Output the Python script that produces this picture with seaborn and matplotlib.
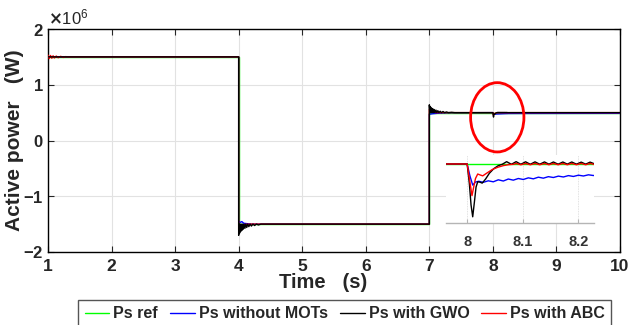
import numpy as np
import pandas as pd
import matplotlib
matplotlib.use("Agg")
import matplotlib.pyplot as plt
from matplotlib.patches import Ellipse
from matplotlib.lines import Line2D
import seaborn as sns

# ---------------- data (values in units of 1e6 W) ----------------
ref_t = [1, 4, 4, 7, 7, 10]
ref_p = [1.5, 1.5, -1.5, -1.5, 0.5, 0.5]

gwo_t = [1, 4, 4.0, 4.008, 4.016, 4.024, 4.033, 4.042, 4.052, 4.062, 4.073, 4.085, 4.098, 4.112,
         4.127, 4.143, 4.16, 4.18, 4.2, 4.225, 4.25, 4.28, 4.31, 4.35, 7.0,
         7.0, 7.008, 7.016, 7.025, 7.034, 7.044, 7.055, 7.066, 7.078, 7.09, 7.104, 7.118, 7.134,
         7.15, 7.17, 7.19, 7.215, 7.24, 7.27, 7.3, 7.35, 7.4, 8.0,
         8.004, 8.007, 8.010, 8.013, 8.016, 8.019, 8.023, 8.027, 8.033, 8.040, 8.048, 8.056, 8.063,
         8.071, 8.0795, 8.088, 8.0965, 8.105, 8.1135, 8.122, 8.1305, 8.139, 8.147, 8.155, 8.1635,
         8.172, 8.180, 8.188, 8.1965, 8.205, 8.213, 8.221, 8.230, 8.3, 10]
gwo_p = [1.5, 1.5, -1.70, -1.50, -1.66, -1.50, -1.63, -1.50, -1.61, -1.50, -1.59, -1.50, -1.575, -1.50,
         -1.56, -1.50, -1.545, -1.50, -1.535, -1.50, -1.525, -1.50, -1.515, -1.50, -1.50,
         0.64, 0.50, 0.61, 0.50, 0.585, 0.50, 0.57, 0.50, 0.555, 0.50, 0.545, 0.50, 0.535,
         0.50, 0.525, 0.50, 0.52, 0.50, 0.512, 0.50, 0.506, 0.50, 0.50,
         0.470, 0.438, 0.420, 0.442, 0.465, 0.473, 0.4725, 0.471, 0.477, 0.486, 0.493, 0.4975, 0.4995,
         0.5035, 0.4995, 0.5035, 0.4995, 0.5033, 0.4995, 0.5032, 0.4996, 0.5031, 0.4996, 0.503, 0.4996,
         0.503, 0.4997, 0.503, 0.4997, 0.5028, 0.4997, 0.5028, 0.4998, 0.50, 0.50]

abc_t = [1.0, 1.02, 1.04, 1.06, 1.08, 1.10, 1.13, 1.16, 1.20, 1.24, 1.28, 1.32, 1.36, 4,
         4.0, 4.02, 4.05, 4.1, 4.2, 7.0,
         7.0, 7.03, 7.06, 7.1, 8.0,
         8.004, 8.0087, 8.012, 8.015, 8.019, 8.023, 8.028, 8.035, 8.045, 8.055, 8.065, 8.075, 8.083,
         8.088, 8.0965, 8.105, 8.1135, 8.122, 8.1305, 8.139, 8.147, 8.155, 8.1635, 8.172, 8.180,
         8.188, 8.1965, 8.205, 8.213, 8.221, 8.230, 8.3, 10]
abc_p = [1.53, 1.47, 1.525, 1.475, 1.52, 1.48, 1.515, 1.485, 1.51, 1.49, 1.505, 1.497, 1.5, 1.5,
         -1.60, -1.52, -1.54, -1.505, -1.5, -1.5,
         0.56, 0.51, 0.52, 0.50, 0.50,
         0.478, 0.452, 0.466, 0.478, 0.4848, 0.4835, 0.482, 0.486, 0.4915, 0.495, 0.4975, 0.499, 0.4995,
         0.5008, 0.4988, 0.5008, 0.4988, 0.5008, 0.4988, 0.5008, 0.4988, 0.5008, 0.4988, 0.5008, 0.4988,
         0.5008, 0.4988, 0.5008, 0.4988, 0.5008, 0.4990, 0.50, 0.50]

mot_t = [1, 4, 4.0, 4.02, 4.05, 4.08, 4.12, 4.2, 7.0,
         7.0, 7.05, 7.15, 7.3, 8.0,
         8.005, 8.010, 8.015, 8.021, 8.029, 8.038, 8.047, 8.056, 8.065, 8.074, 8.083, 8.092, 8.101,
         8.110, 8.119, 8.128, 8.137, 8.146, 8.155, 8.164, 8.173, 8.182, 8.191, 8.200, 8.209, 8.218,
         8.227, 8.236, 8.5, 10]
mot_p = [1.5, 1.5, -1.44, -1.47, -1.455, -1.485, -1.49, -1.5, -1.5,
         0.47, 0.48, 0.49, 0.497, 0.50,
         0.482, 0.468, 0.4727, 0.4738, 0.4722, 0.4745, 0.4730, 0.4760, 0.4742, 0.4772, 0.4755, 0.4780, 0.4765,
         0.4790, 0.4775, 0.4800, 0.4785, 0.4808, 0.4795, 0.4816, 0.4803, 0.4824, 0.4811, 0.4830, 0.4818, 0.4836,
         0.4825, 0.4838, 0.485, 0.487]

labels = ["Ps ref", "Ps without MOTs", "Ps with GWO", "Ps with ABC"]
colors = ["#00ff00", "#0000ff", "#000000", "#ff0000"]
series = [(ref_t, ref_p), (mot_t, mot_p), (gwo_t, gwo_p), (abc_t, abc_p)]

# ---------------- style ----------------
sns.set_style("ticks")
plt.rcParams["font.family"] = ["Liberation Sans", "DejaVu Sans"]
plt.rcParams["font.weight"] = "bold"
plt.rcParams["axes.unicode_minus"] = False

W, H = 628, 325
fig = plt.figure(figsize=(W / 100, H / 100), dpi=100)
ax = fig.add_axes([48 / W, 1 - 252 / H, (620 - 48) / W, (252 - 29) / H])


def draw(axis, t, p, color, z):
    df = pd.DataFrame({"t": t, "p": np.asarray(p) * 1e6})
    sns.lineplot(data=df, x="t", y="p", sort=False, estimator=None, color=color,
                 lw=1.0, ax=axis, legend=False, zorder=z)


main_z = [2, 3, 5, 4]   # black on top in main plot
for (t, p), c, z in zip(series, colors, main_z):
    draw(ax, t, p, c, z)

ax.set_xlim(1, 10)
ax.set_ylim(-2e6, 2e6)
ax.set_xticks(range(1, 11))
ax.set_yticks([-2e6, -1e6, 0, 1e6, 2e6])
ax.ticklabel_format(axis="y", style="sci", scilimits=(0, 0), useMathText=True)
ax.yaxis.get_offset_text().set_fontsize(12)
ax.yaxis.get_offset_text().set_fontweight("normal")
ax.tick_params(direction="in", top=True, right=True, length=4, width=0.8)
ax.tick_params(axis="x", pad=5, labelsize=12.5)
ax.tick_params(axis="y", pad=3, labelsize=12)
ax.grid(True, color="#e2e2e2", lw=0.8)
for s in ax.spines.values():
    s.set_color("black")
    s.set_linewidth(1.0)
ax.set_xlabel("Time   (s)", fontsize=14.5, fontweight="bold")
ax.set_ylabel("Active power   (W)", fontsize=15, fontweight="bold")
ax.xaxis.set_label_coords((323.5 - 48) / 572, -(282.5 - 252) / 223, transform=ax.transAxes)
ax.yaxis.set_label_coords(-(48 - 15) / 572, 0.5, transform=ax.transAxes)
ax.xaxis.label.set_va("center")
ax.yaxis.label.set_va("center")

ax.add_patch(Ellipse((8.069, 0.416e6), 0.839, 1.243e6, fill=False, ec="#ff0000", lw=2.0, zorder=6))

# ---------------- inset ----------------
axin = fig.add_axes([446 / W, 1 - 223 / H, 148 / W, 68 / H])
axin.set_facecolor("white")
inset_z = [2, 3, 4, 5]   # red on top in inset
for (t, p), c, z in zip(series, colors, inset_z):
    draw(axin, t, p, c, z)
axin.set_xlim(7.962, 8.228)
axin.set_ylim(0.4106e6, 0.5136e6)
axin.set_xticks([8, 8.1, 8.2])
axin.set_xticklabels(["8", "8.1", "8.2"])
axin.set_yticks([])
axin.set_xlabel("")
axin.set_ylabel("")
for k in ["top", "left", "right"]:
    axin.spines[k].set_visible(False)
axin.spines["bottom"].set_color("#b5b5b5")
axin.spines["bottom"].set_linewidth(1.0)
axin.tick_params(axis="x", direction="in", length=3, color="#b5b5b5", labelsize=10.5,
                 labelcolor="#333333", pad=9)
axin.grid(True, axis="x", color="#d8d8d8", lw=0.6, linestyle=(0, (1, 1)))

# ---------------- legend ----------------
handles = [Line2D([0], [0], color=c, lw=1.0) for c in colors]
leg = fig.legend(handles, labels, loc="upper center", bbox_to_anchor=(0.549, 1 - 300 / H),
                 ncol=4, frameon=True, fancybox=False, edgecolor="#555555", framealpha=1,
                 handlelength=1.55, handletextpad=0.25, columnspacing=0.75,
                 borderpad=0.4, borderaxespad=0, prop={"weight": "bold", "size": 11.5})
leg.get_frame().set_linewidth(1.0)

fig.savefig("out.png", dpi=100)
